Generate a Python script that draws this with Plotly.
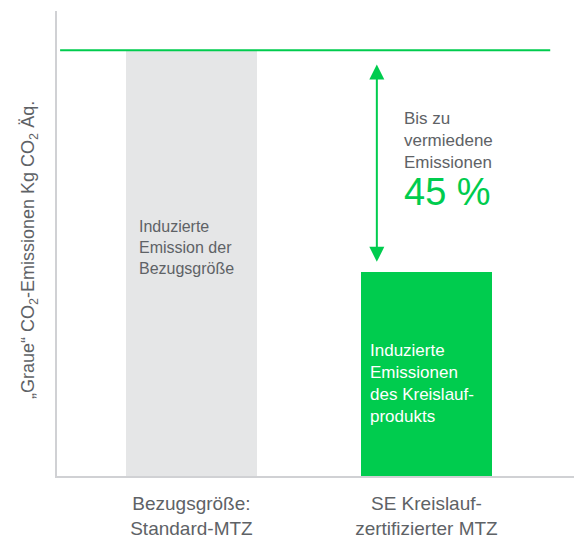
import plotly.graph_objects as go

# Data
categories = ["Bezugsgröße:<br>Standard-MTZ", "SE Kreislauf-<br>zertifizierter MTZ"]
emissions = [100, 48]
bar_labels = ["Induzierte<br>Emission der<br>Bezugsgröße",
              "Induzierte<br>Emissionen<br>des Kreislauf-<br>produkts"]
saving_text = "Bis zu<br>vermiedene<br>Emissionen"
saving_pct = "45 %"
y_title = "„Graue“ CO<sub>2</sub>-Emissionen Kg CO<sub>2</sub> Äq."

GREEN = "#00CC4E"
GREY_BAR = "#E5E6E7"
AXIS = "#D0D1D4"
TEXT = "#5E6266"

ymax = emissions[0] * 1.092
xs = [0, 1]

fig = go.Figure()
fig.add_trace(go.Bar(
    x=xs, y=emissions, width=0.557,
    marker=dict(color=[GREY_BAR, GREEN], line=dict(width=0)),
    hoverinfo="skip", showlegend=False,
))

# reference line at the standard level
fig.add_shape(type="line", xref="paper", yref="y",
              x0=0.006, x1=0.954, y0=emissions[0], y1=emissions[0],
              line=dict(color=GREEN, width=2))

# double-headed arrow showing the saving
arrow_x = xs[1] - 0.211
fig.add_annotation(x=arrow_x, y=emissions[1] + 2.3, ax=arrow_x, ay=emissions[0] - 3.0,
                   xref="x", yref="y", axref="x", ayref="y", text="",
                   showarrow=True, arrowside="end+start",
                   arrowhead=2, startarrowhead=2, arrowsize=1.5, startarrowsize=1.5,
                   arrowwidth=2, arrowcolor=GREEN)

fig.add_annotation(x=xs[1] - 0.104, y=emissions[0] * 0.789, xref="x", yref="y",
                   text=saving_text, showarrow=False, xanchor="left", yanchor="middle",
                   align="left", font=dict(size=17, color=TEXT))
fig.add_annotation(x=xs[1] - 0.104, y=emissions[0] * 0.667, xref="x", yref="y",
                   text=saving_pct, showarrow=False, xanchor="left", yanchor="middle",
                   align="left", font=dict(size=38, color=GREEN))

# text inside bars
fig.add_annotation(x=xs[0] - 0.23, y=53.7, xref="x", yref="y",
                   text=bar_labels[0], showarrow=False, xanchor="left", yanchor="middle",
                   align="left", font=dict(size=16, color=TEXT))
fig.add_annotation(x=xs[1] - 0.25, y=21.7, xref="x", yref="y",
                   text=bar_labels[1], showarrow=False, xanchor="left", yanchor="middle",
                   align="left", font=dict(size=17, color="white"))

# y axis title
fig.add_annotation(x=-(57 - 30) / 517, y=(476 - 250) / 465, xref="paper", yref="paper",
                   text=y_title, textangle=-90, showarrow=False,
                   xanchor="center", yanchor="middle",
                   font=dict(size=18, color=TEXT))

fig.update_layout(
    width=574, height=535,
    margin=dict(l=57, r=0, t=11, b=59, autoexpand=False),
    paper_bgcolor="white", plot_bgcolor="white",
    font=dict(family="Liberation Sans, Arial, sans-serif", color=TEXT),
    bargap=0,
)
fig.update_xaxes(range=[-0.572, 1.628], tickvals=xs, ticktext=categories,
                 showline=True, linecolor=AXIS, linewidth=2, showgrid=False,
                 zeroline=False, ticks="", tickfont=dict(size=19, color=TEXT),
                 ticklabelstandoff=9, automargin=False, fixedrange=True)
fig.update_yaxes(range=[0, ymax], showline=True, linecolor=AXIS, linewidth=2,
                 showgrid=False, zeroline=False, showticklabels=False, ticks="",
                 automargin=False, fixedrange=True)

fig.write_html("out.html", config={"displayModeBar": False},
               post_script="document.body.style.margin='0';document.body.style.overflow='hidden';")
